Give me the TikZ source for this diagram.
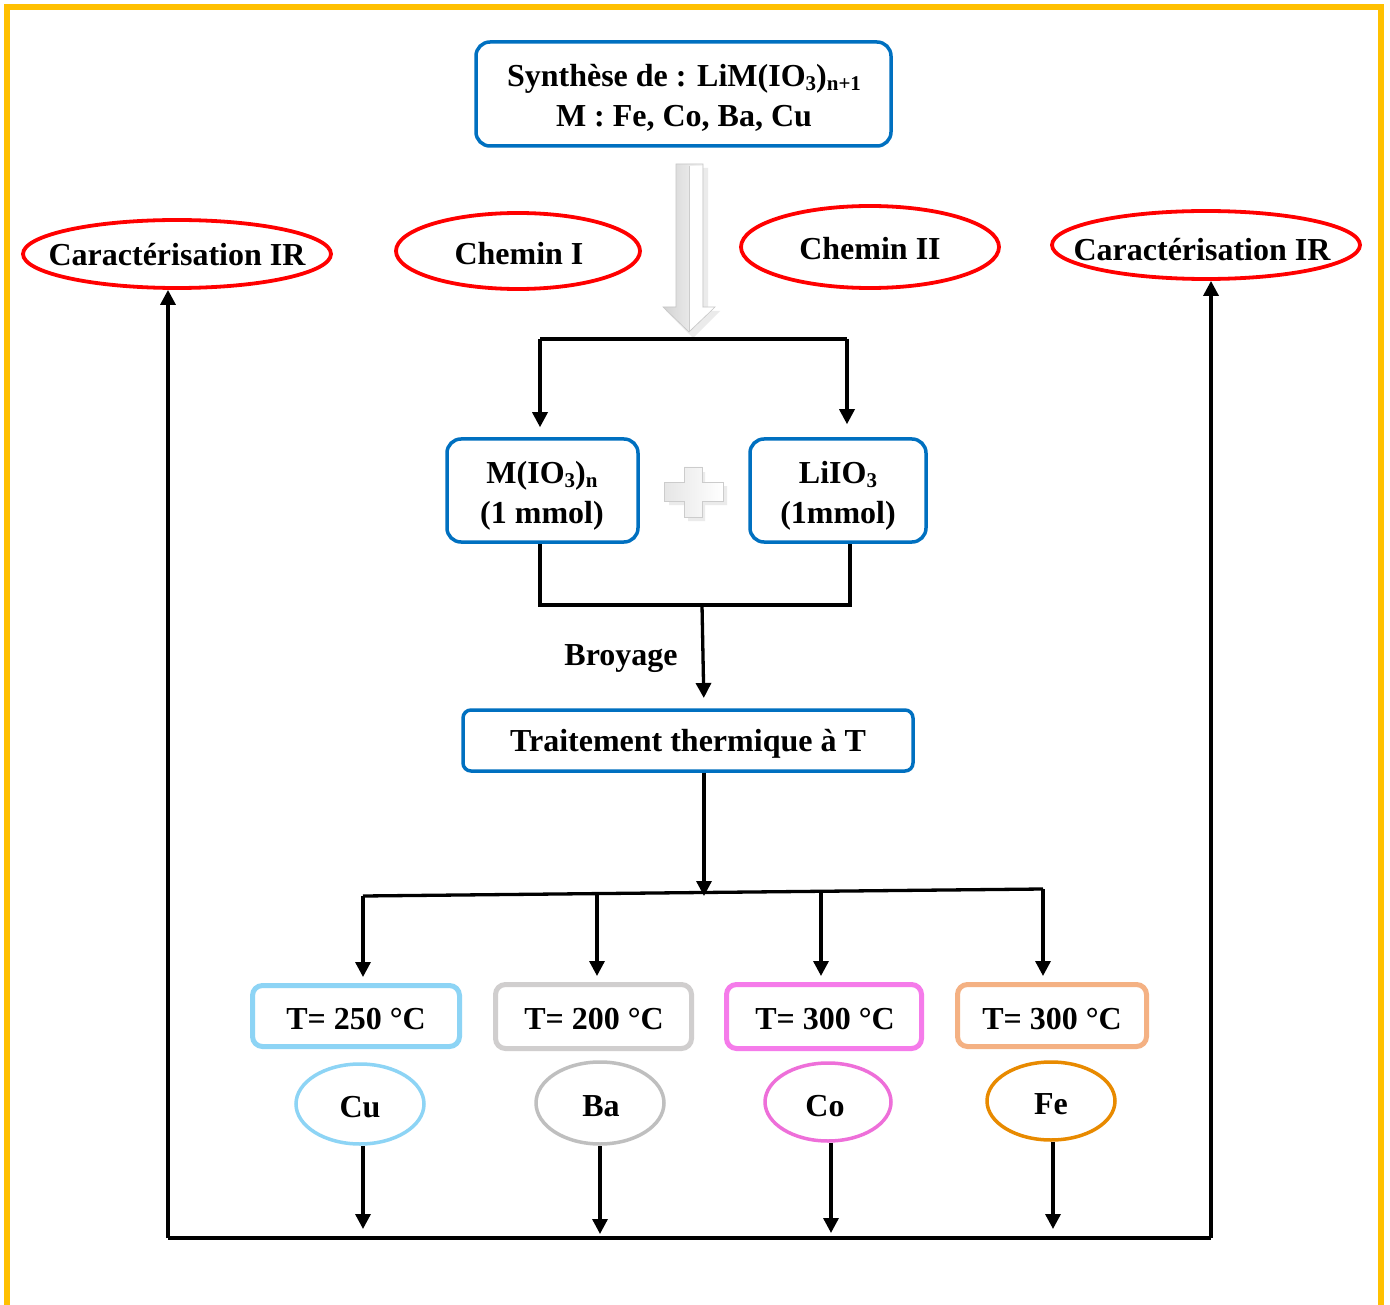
\documentclass[tikz,border=0pt]{standalone}
\usepackage{fontspec}
\setmainfont{Liberation Serif}
\usetikzlibrary{arrows.meta,shapes.geometric}
\definecolor{frameyellow}{HTML}{FFC000}
\definecolor{boxblue}{HTML}{0070C0}
\definecolor{cublue}{HTML}{8DD4F5}
\definecolor{bagray}{HTML}{D0CECE}
\definecolor{bagrayel}{HTML}{BFBFBF}
\definecolor{copink}{HTML}{F57BEA}
\definecolor{coel}{HTML}{EE6FD9}
\definecolor{fepeach}{HTML}{F4B183}
\definecolor{feorange}{HTML}{E88A00}

% small lowered text for chemical indices
\newcommand\subtxt[1]{\raisebox{-0.12em}{\fontsize{21}{21}\selectfont #1}}

\begin{document}
\begin{tikzpicture}[x=1pt,y=-1pt,
  every node/.style={font=\fontsize{32}{40}\selectfont\bfseries, inner sep=0pt, align=center},
  bluebox/.style={draw=boxblue, line width=3.5pt, rounded corners=14pt},
  redell/.style={ellipse, draw=red, line width=3.8pt},
  tbox/.style={rounded corners=10pt, line width=5pt},
  mell/.style={ellipse, line width=3.5pt},
  link/.style={line width=3.3pt},
  arr/.style={line width=3.3pt, -{Triangle[length=15pt,width=15pt]}},
]
\useasboundingbox (0,0) rectangle (1390,1305);
\fill[white] (0,0) rectangle (1390,1305);

% outer frame
\draw[frameyellow, line width=6pt] (7,1330) -- (7,7) -- (1381,7) -- (1381,1330);

% title box
\node[bluebox, minimum width=415pt, minimum height=104pt] (synth) at (683.5,94) {};
\node (synthT) at (684,98) {Synthèse de : LiM(IO\subtxt{3})\subtxt{n+1}\\M : Fe, Co, Ba, Cu};

% red labels
\node[redell, minimum width=308pt, minimum height=68pt] (irL) at (177,254) {};
\node (irLT) at (177,255) {Caractérisation IR};
\node[redell, minimum width=244pt, minimum height=76pt] (chemI) at (518,251) {};
\node (chemIT) at (519,254) {Chemin I};
\node[redell, minimum width=258pt, minimum height=82pt] (chemII) at (870,247) {};
\node (chemIIT) at (870,249) {Chemin II};
\node[redell, minimum width=308pt, minimum height=68pt] (irR) at (1206,245) {};
\node (irRT) at (1202,250) {Caractérisation IR};

% big embossed arrow
\fill[gray!25, opacity=0.6] (680,168) -- (708,168) -- (708,311) -- (720,311) -- (693,338) -- (666,311) -- (680,311) -- cycle;
\shade[left color=gray!35, right color=white, draw=gray!45, line width=0.6pt]
  (676,164) -- (703,164) -- (703,307) -- (715,307) -- (689,332) -- (663,307) -- (676,307) -- cycle;
\fill[white] (690,166) -- (702,166) -- (702,308) -- (713,308) -- (689,331) -- cycle;
\draw[gray!40, line width=0.6pt] (689,166) -- (689,331);

% split to the two reagents
\coordinate (sl) at (540,339);
\coordinate (sr) at (847,339);
\draw[link] (sl) -- (sr);

\node[bluebox, minimum width=191pt, minimum height=103pt] (mio) at (542.5,490.5) {};
\node (mioT) at (542,496) {M(IO\subtxt{3})\subtxt{n}\\(1 mmol)};
\node[bluebox, minimum width=176pt, minimum height=103pt] (liio) at (838,490.5) {};
\node (liioT) at (838,496) {LiIO\subtxt{3}\\(1mmol)};

\draw[arr, shorten >=10pt] (sl) -- (sl |- mio.north);
\draw[arr, shorten >=13pt] (sr) -- (sr |- liio.north);

% embossed plus sign
\fill[gray!25, opacity=0.6] (669,486) -- (688,486) -- (688,472) -- (705,472) -- (705,486) -- (727,486) -- (727,505) -- (705,505) -- (705,521) -- (688,521) -- (688,505) -- (669,505) -- cycle;
\shade[left color=gray!20, right color=white, draw=gray!40, line width=0.6pt]
  (664,482) -- (684,482) -- (684,467) -- (702,467) -- (702,482) -- (723,482) -- (723,501) -- (702,501) -- (702,517) -- (684,517) -- (684,501) -- (664,501) -- cycle;

% merge and grinding
\coordinate (ml) at (540,605);
\coordinate (mr) at (850,605);
\coordinate (mm) at (702,605);
\draw[link] (mio.south -| ml) -- (ml) -- (mr) -- (liio.south -| mr);

\node[bluebox, rounded corners=8pt, minimum width=450pt, minimum height=61pt] (treat) at (688,740.5) {};
\node (treatT) at (688,744) {Traitement thermique à T};
\draw[arr, shorten >=10pt] (mm) -- (704,708);
\node (broy) at (621,659) {Broyage};

% temperature branches
\coordinate (tj) at (704,896);
\coordinate (b1) at (363,896);
\coordinate (b2) at (597,894);
\coordinate (b3) at (821,891);
\coordinate (b4) at (1043,889);
\draw[link] (b1) -- (b4);
\draw[arr] (treat.south -| tj) -- (tj);

\node[tbox, draw=cublue, minimum width=207pt, minimum height=61pt] (t1) at (356,1016) {};
\node (t1T) at (356,1019) {T= 250 °C};
\node[tbox, draw=bagray, minimum width=196pt, minimum height=64pt] (t2) at (593.5,1016.5) {};
\node (t2T) at (594,1019) {T= 200 °C};
\node[tbox, draw=copink, minimum width=195pt, minimum height=64pt] (t3) at (824,1016.5) {};
\node (t3T) at (825,1019) {T= 300 °C};
\node[tbox, draw=fepeach, minimum width=189pt, minimum height=62pt] (t4) at (1052,1015.5) {};
\node (t4T) at (1052,1019) {T= 300 °C};

\draw[arr, shorten >=6pt] (b1) -- (b1 |- t1.north);
\draw[arr, shorten >=6pt] (b2) -- (b2 |- t2.north);
\draw[arr, shorten >=6pt] (b3) -- (b3 |- t3.north);
\draw[arr, shorten >=6pt] (b4) -- (b4 |- t4.north);

\node[mell, draw=cublue, minimum width=128pt, minimum height=80pt] (cu) at (360,1104) {};
\node (cuT) at (360,1107) {Cu};
\node[mell, draw=bagrayel, minimum width=128pt, minimum height=82pt] (ba) at (600,1103) {};
\node (baT) at (601,1106) {Ba};
\node[mell, draw=coel, minimum width=126pt, minimum height=78pt] (co) at (828,1102) {};
\node (coT) at (825,1106) {Co};
\node[mell, draw=feorange, minimum width=128pt, minimum height=78pt] (fe) at (1051,1101) {};
\node (feT) at (1051,1104) {Fe};

% return to IR characterisation
\coordinate (e1) at (363,1229);
\coordinate (e2) at (600,1234);
\coordinate (e3) at (831,1233);
\coordinate (e4) at (1053,1229);
\draw[arr] (e1 |- cu.south) -- (e1);
\draw[arr] (e2 |- ba.south) -- (e2);
\draw[arr] (e3 |- co.south) -- (e3);
\draw[arr] (e4 |- fe.south) -- (e4);

\coordinate (rl) at (168,1238);
\coordinate (rr) at (1211,1238);
\draw[link] (rl) -- (rr);
\draw[arr] (rl) -- (rl |- irL.south);
\draw[arr] (rr) -- (rr |- irR.south);
\end{tikzpicture}
\end{document}
